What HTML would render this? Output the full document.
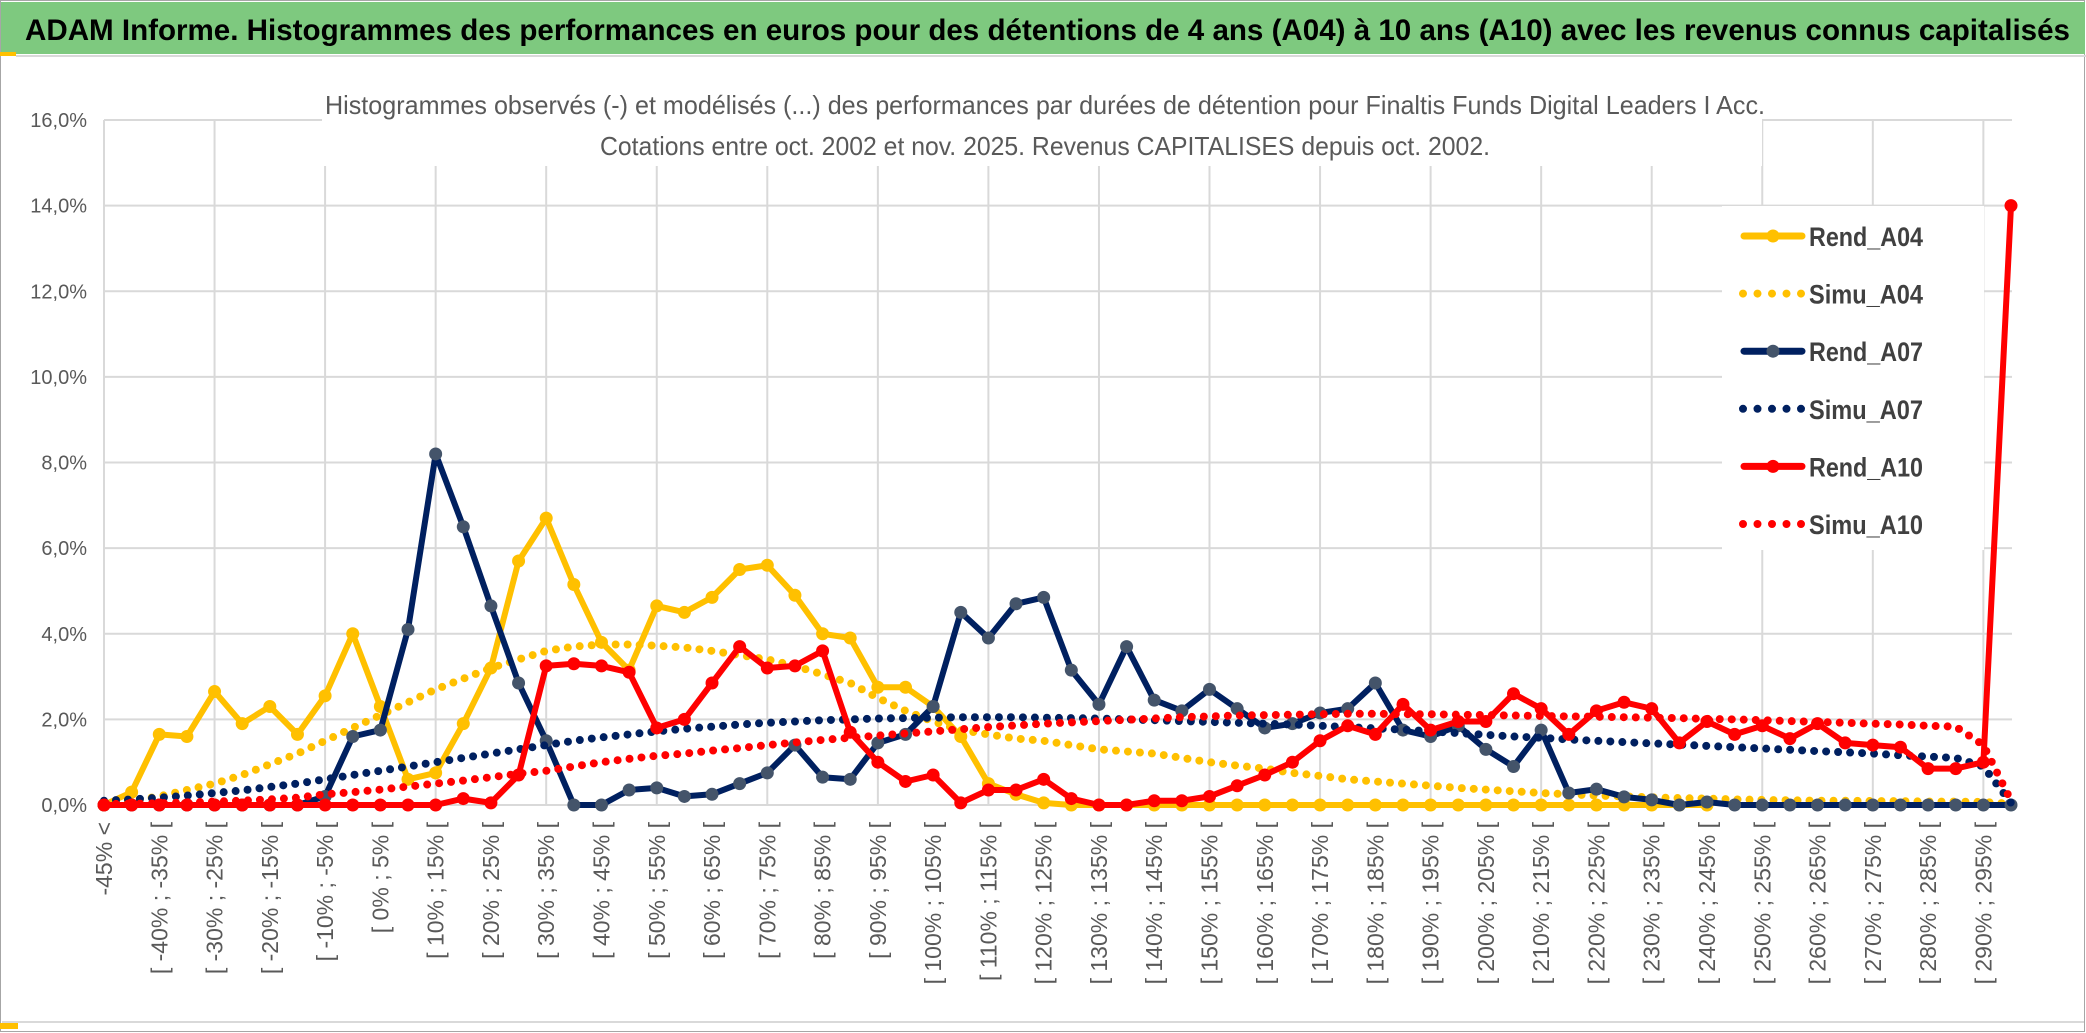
<!DOCTYPE html>
<html><head><meta charset="utf-8">
<style>
html,body{margin:0;padding:0;background:#fff;}
body{width:2086px;height:1033px;overflow:hidden;font-family:"Liberation Sans",sans-serif;}
svg{display:block;}
</style></head>
<body>
<svg id="chart" width="2086" height="1033" viewBox="0 0 2086 1033" xmlns="http://www.w3.org/2000/svg">
  <rect x="0.5" y="0.5" width="2084" height="1031" fill="#fff" stroke="#a6a6a6"/>
  <rect x="1" y="2" width="2084" height="52" fill="#7ec97f"/>
  <rect x="0" y="52" width="16" height="4" fill="#ffc000"/>
  <line x1="16" y1="56" x2="2086" y2="56" stroke="#d9d9d9" stroke-width="2"/>
  <text x="25" y="40" font-size="30" font-weight="bold" fill="#000" textLength="2045" lengthAdjust="spacingAndGlyphs">ADAM Informe. Histogrammes des performances en euros pour des détentions de 4 ans (A04) à 10 ans (A10) avec les revenus connus capitalisés</text>
  <line x1="2" y1="1022" x2="2084" y2="1022" stroke="#d9d9d9" stroke-width="2"/>
  <rect x="0" y="1023" width="18" height="6" fill="#ffc000"/>
  <g id="grid"></g>
  <g id="ylabels"></g>
  <g id="xlabels"></g>
  <rect x="322" y="78" width="1440" height="88" fill="#fff"/>
  <text x="1045" y="114" font-size="26" fill="#595959" text-anchor="middle" textLength="1440" lengthAdjust="spacingAndGlyphs">Histogrammes observés (-) et modélisés (...) des performances par durées de détention pour Finaltis Funds Digital Leaders I Acc.</text>
  <text x="1045" y="155" font-size="26" fill="#595959" text-anchor="middle" textLength="890" lengthAdjust="spacingAndGlyphs">Cotations entre oct. 2002 et nov. 2025. Revenus CAPITALISES depuis oct. 2002.</text>
  <g id="series"></g>
  <g id="legend"></g>
</svg>
<script>
const rendA04 = [0,0.3,1.65,1.6,2.65,1.9,2.3,1.65,2.55,4.0, 2.3,0.6,0.75,1.9,3.2,5.7,6.7,5.15,3.8,3.15, 4.65,4.5,4.85,5.5,5.6,4.9,4.0,3.9,2.75,2.75, 2.3,1.6,0.5,0.25,0.05,0,0,0,0,0, 0,0,0,0,0,0,0,0,0,0, 0,0,0,0,0,0,0,0,0, null,null,null,null,null,null,null,null,null,null,null];
const simuA04 = [0.05,0.1,0.2,0.35,0.5,0.7,0.95,1.2,1.5,1.8, 2.1,2.4,2.7,2.95,3.2,3.4,3.6,3.7,3.75,3.75, 3.72,3.68,3.6,3.5,3.4,3.25,3.05,2.85,2.5,2.2, 1.95,1.75,1.65,1.55,1.5,1.4,1.3,1.25,1.2,1.1, 1.0,0.92,0.85,0.75,0.68,0.6,0.55,0.5,0.45,0.4, 0.36,0.32,0.28,0.25,0.22,0.2,0.18,0.16,0.15,0.13, 0.12,0.11,0.1,0.1,0.09,0.09,0.08,0.08,0.07,0.03];
const rendA07 = [0,0,0,0,0,0,0,0,0.2,1.6, 1.75,4.1,8.2,6.5,4.65,2.85,1.5,0,0,0.35, 0.4,0.2,0.25,0.5,0.75,1.4,0.65,0.6,1.45,1.65, 2.3,4.5,3.9,4.7,4.85,3.15,2.35,3.7,2.45,2.2, 2.7,2.25,1.8,1.9,2.15,2.25,2.85,1.75,1.6,1.85, 1.3,0.9,1.75,0.28,0.37,0.19,0.12,0,0.07,0, 0,0,0,0,0,0,0,0,0,0];
const simuA07 = [0.1,0.13,0.17,0.22,0.28,0.34,0.42,0.5,0.6,0.7, 0.8,0.9,1.0,1.1,1.2,1.3,1.4,1.5,1.58,1.65, 1.72,1.78,1.83,1.88,1.92,1.95,1.98,2.0,2.02,2.03, 2.04,2.05,2.05,2.05,2.04,2.03,2.02,2.0,1.98,1.96, 1.94,1.92,1.9,1.88,1.85,1.82,1.79,1.76,1.72,1.68, 1.64,1.6,1.57,1.53,1.5,1.47,1.44,1.41,1.38,1.35, 1.32,1.29,1.26,1.23,1.2,1.16,1.13,1.1,0.9,0.05];
const rendA10 = [0,0,0,0,0,0,0,0,0,0, 0,0,0,0.15,0.05,0.7,3.25,3.3,3.25,3.1, 1.8,2.0,2.85,3.7,3.2,3.25,3.6,1.7,1.0,0.55, 0.7,0.05,0.35,0.35,0.6,0.15,0,0,0.1,0.1, 0.2,0.45,0.7,1.0,1.5,1.85,1.65,2.35,1.75,1.95, 1.95,2.6,2.25,1.65,2.2,2.4,2.25,1.45,1.95,1.65, 1.85,1.55,1.9,1.45,1.4,1.35,0.85,0.85,1.0,14.0];
const simuA10 = [0.02,0.03,0.04,0.06,0.08,0.1,0.13,0.17,0.25,0.3, 0.36,0.43,0.5,0.57,0.65,0.73,0.8,0.9,1.0,1.08, 1.15,1.2,1.27,1.33,1.4,1.46,1.52,1.57,1.62,1.67, 1.72,1.77,1.82,1.86,1.9,1.93,1.96,1.99,2.02,2.05, 2.07,2.09,2.1,2.11,2.12,2.13,2.13,2.12,2.12,2.11, 2.1,2.09,2.08,2.07,2.06,2.05,2.04,2.03,2.01,2.0, 1.98,1.96,1.94,1.92,1.9,1.88,1.85,1.83,1.4,0.1];
const yTicks = [0,2,4,6,8,10,12,14,16];
const yTickLabels = ["0,0%","2,0%","4,0%","6,0%","8,0%","10,0%","12,0%","14,0%","16,0%"];
const categories = ["-45% <"];
for (let a = -45; a < 300; a += 5) categories.push("[ " + a + "% ; " + (a + 5) + "% [");

const NS = "http://www.w3.org/2000/svg";
const X0 = 104, X1 = 2011, Y0 = 805, YTOP = 120, YMAX = 16;
const n = categories.length;
function xPos(i){ return X0 + (X1 - X0) * i / (n - 1); }
function yPos(v){ return Y0 - (Y0 - YTOP) * v / YMAX; }
function mk(tag, attrs, parent){
  const e = document.createElementNS(NS, tag);
  for (const k in attrs) e.setAttribute(k, attrs[k]);
  parent.appendChild(e);
  return e;
}

const grid = document.getElementById('grid');
yTicks.forEach(function(t){
  const l = mk('line', {x1: X0, x2: X1 + 1, y1: yPos(t), y2: yPos(t), stroke: '#d9d9d9', 'stroke-width': 2}, grid);
  
  
});
for (let i = 0; i < n; i += 4) {
  const l = mk('line', {x1: xPos(i), x2: xPos(i), y1: YTOP, y2: Y0, stroke: '#d9d9d9', 'stroke-width': 2}, grid);
  
  
}
const yl = document.getElementById('ylabels');
yTicks.forEach(function(t, k){
  const tx = mk('text', {x: 87, y: yPos(t) + 7, 'font-size': 20, fill: '#595959', 'text-anchor': 'end'}, yl);
  tx.textContent = yTickLabels[k];
  
  
});
const xl = document.getElementById('xlabels');
for (let i = 0; i < n; i += 2) {
  const x = xPos(i) + 8, y = 822;
  const tx = mk('text', {x: x, y: y, 'font-size': 23, fill: '#595959', 'text-anchor': 'end', transform: 'rotate(-90 ' + x + ' ' + y + ')'}, xl);
  tx.textContent = categories[i];
  
  
}

const seriesG = document.getElementById('series');
function drawSolid(data, color, markerColor, name){
  const g = mk('g', {}, seriesG);
  
  
  let d = '';
  data.forEach(function(v, i){
    if (v === null) return;
    d += (d ? ' L' : 'M') + xPos(i).toFixed(1) + ' ' + yPos(v).toFixed(1);
  });
  mk('path', {d: d, fill: 'none', stroke: color, 'stroke-width': 6, 'stroke-linejoin': 'round', 'stroke-linecap': 'round'}, g);
  data.forEach(function(v, i){
    if (v === null) return;
    const c = mk('circle', {cx: xPos(i), cy: yPos(v), r: 6.5, fill: markerColor}, g);
    
    
  });
}
function drawDotted(data, color, name){
  const g = mk('g', {}, seriesG);
  
  
  let d = '';
  data.forEach(function(v, i){
    if (v === null) return;
    d += (d ? ' L' : 'M') + xPos(i).toFixed(1) + ' ' + yPos(v).toFixed(1);
  });
  mk('path', {d: d, fill: 'none', stroke: color, 'stroke-width': 8, 'stroke-dasharray': '0 12', 'stroke-linecap': 'round'}, g);
}
drawSolid(rendA04, '#ffc000', '#ffc000', 'rend-a04-line');
drawDotted(simuA04, '#ffc000', 'simu-a04-line');
drawSolid(rendA07, '#002060', '#44546a', 'rend-a07-line');
drawDotted(simuA07, '#002060', 'simu-a07-line');
drawSolid(rendA10, '#ff0000', '#ff0000', 'rend-a10-line');
drawDotted(simuA10, '#ff0000', 'simu-a10-line');

const legendNames = ["Rend_A04","Simu_A04","Rend_A07","Simu_A07","Rend_A10","Simu_A10"];
const legendColors = ["#ffc000","#ffc000","#002060","#002060","#ff0000","#ff0000"];
const legendMarkers = ["#ffc000",null,"#44546a",null,"#ff0000",null];
const lg = document.getElementById('legend');
mk('rect', {x: 1722, y: 206, width: 262, height: 344, fill: '#fff'}, lg);
legendNames.forEach(function(nm, k){
  const y = 236 + k * 57.6;
  const g = mk('g', {}, lg);
  
  
  if (legendMarkers[k]) {
    mk('line', {x1: 1744, x2: 1802, y1: y, y2: y, stroke: legendColors[k], 'stroke-width': 7, 'stroke-linecap': 'round'}, g);
    mk('circle', {cx: 1773, cy: y, r: 6.5, fill: legendMarkers[k]}, g);
  } else {
    mk('line', {x1: 1743, x2: 1802, y1: y, y2: y, stroke: legendColors[k], 'stroke-width': 8, 'stroke-dasharray': '0 14.5', 'stroke-linecap': 'round'}, g);
  }
  const t = mk('text', {x: 1809, y: y + 10, 'font-size': 27, 'font-weight': 'bold', fill: '#404040', textLength: 114, lengthAdjust: 'spacingAndGlyphs'}, g);
  t.textContent = nm;
});
</script>
</body></html>
